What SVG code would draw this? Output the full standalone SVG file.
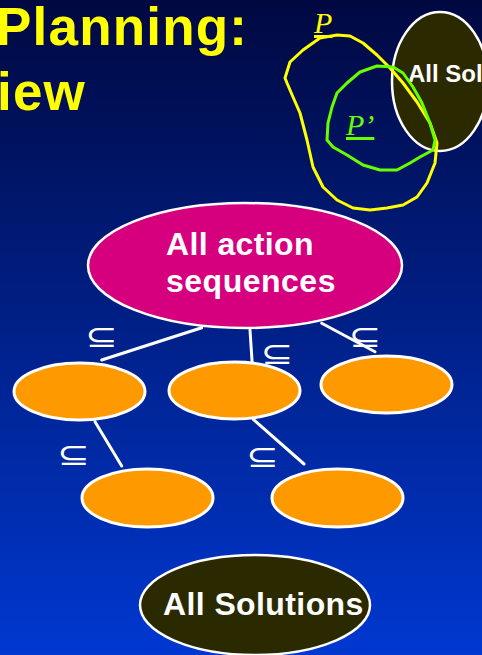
<svg xmlns="http://www.w3.org/2000/svg" width="482" height="655" viewBox="0 0 482 655">
  <defs>
    <linearGradient id="bg" x1="0" y1="0" x2="0" y2="1">
      <stop offset="0" stop-color="#000840"/>
      <stop offset="1" stop-color="#0038d0"/>
    </linearGradient>
  </defs>
  <style>
    .title { font-family: "Liberation Sans", Arial, sans-serif; font-weight: bold; font-size: 53px; fill: #ffff00; letter-spacing: 1.2px; }
    .label { font-family: "Liberation Sans", Arial, sans-serif; font-weight: bold; fill: #ffffff; }
    .sub { font-family: "DejaVu Sans", sans-serif; font-size: 31px; fill: #ffffff; text-anchor: middle; }
    .conn { stroke: #ffffff; stroke-width: 3; stroke-linecap: round; fill: none; }
    .orange { fill: #ff9900; stroke: #ffffff; stroke-width: 3; }
    .sol { fill: #2b2900; stroke: #ffffff; stroke-width: 2.5; }
    .plan { font-family: "Liberation Serif", "Times New Roman", serif; font-style: italic; font-size: 30px; text-decoration: underline; }
    .curve { fill: none; stroke-width: 3; stroke-linejoin: round; }
  </style>

  <rect x="0" y="0" width="482" height="655" fill="url(#bg)"/>

  <!-- heading -->
  <g id="heading">
    <text class="title" x="-4" y="45">Planning:</text>
    <text class="title" x="-3" y="110">iew</text>
  </g>

  <!-- solution set, top right -->
  <g id="solutions-top">
    <ellipse class="sol" cx="440" cy="81.5" rx="48" ry="69.5"/>
    <text class="label" x="408" y="82" font-size="24">All Solutions</text>
  </g>

  <!-- plan P and its refinement P' -->
  <g id="plan-p">
    <path class="curve" stroke="#ffff00" d="M285,78 L290,62 L303,50 L320,38 L337,35 L350,36 L363,43 L377,55 L390,68 L403,83 L417,102 L430,123 L437,143 L435,163 L427,183 L417,197 L403,205 L387,208 L370,210 L353,208 L337,200 L323,187 L313,167 L307,140 L300,113 L293,97 L287,83 Z"/>
    <text class="plan" x="314" y="33" fill="#ffff00">P</text>
  </g>
  <g id="plan-p-prime">
    <path class="curve" stroke="#66ff00" d="M347,83 L360,72 L377,66 L393,67 L403,73 L413,87 L422,103 L430,123 L435,140 L433,150 L420,157 L410,163 L397,170 L380,170 L363,165 L347,155 L333,147 L327,140 L328,123 L332,107 L337,93 Z"/>
    <text class="plan" x="346" y="135" fill="#66ff00">P’</text>
  </g>

  <!-- refinement connectors -->
  <g id="connectors">
    <line class="conn" x1="201.7" y1="327.7" x2="101.7" y2="360"/>
    <line class="conn" x1="250" y1="330" x2="252.3" y2="365"/>
    <line class="conn" x1="321.7" y1="323.3" x2="375" y2="351.7"/>
    <line class="conn" x1="95" y1="421.7" x2="121.7" y2="466"/>
    <line class="conn" x1="253.3" y1="419.3" x2="304" y2="464"/>
    <text class="sub" transform="translate(101.5,346.5) scale(1.25,1)">⊆</text>
    <text class="sub" transform="translate(277,364) scale(1.25,1)">⊆</text>
    <text class="sub" transform="translate(365,347) scale(1.25,1)">⊆</text>
    <text class="sub" transform="translate(73.5,465) scale(1.25,1)">⊆</text>
    <text class="sub" transform="translate(262.5,467) scale(1.25,1)">⊆</text>
  </g>

  <g id="all-sequences">
    <ellipse cx="245" cy="265.5" rx="157" ry="62.5" fill="#d6007f" stroke="#ffffff" stroke-width="2.5"/>
    <text class="label" x="166" y="255" font-size="32" letter-spacing="0.4">All action</text>
    <text class="label" x="166" y="292" font-size="32" letter-spacing="0.5">sequences</text>
  </g>

  <g id="plan-a"><ellipse class="orange" cx="79.5" cy="391.5" rx="65.5" ry="28.5"/></g>
  <g id="plan-b"><ellipse class="orange" cx="234.5" cy="390.5" rx="65.5" ry="28.5"/></g>
  <g id="plan-c"><ellipse class="orange" cx="386.5" cy="384.5" rx="65.5" ry="28.5"/></g>
  <g id="plan-d"><ellipse class="orange" cx="147.5" cy="498" rx="65.5" ry="29"/></g>
  <g id="plan-e"><ellipse class="orange" cx="337.5" cy="498" rx="65.5" ry="29"/></g>

  <g id="solutions-bottom">
    <ellipse class="sol" cx="255" cy="605" rx="115" ry="50"/>
    <text class="label" x="163" y="615" font-size="32" letter-spacing="0.4">All Solutions</text>
  </g>
</svg>
